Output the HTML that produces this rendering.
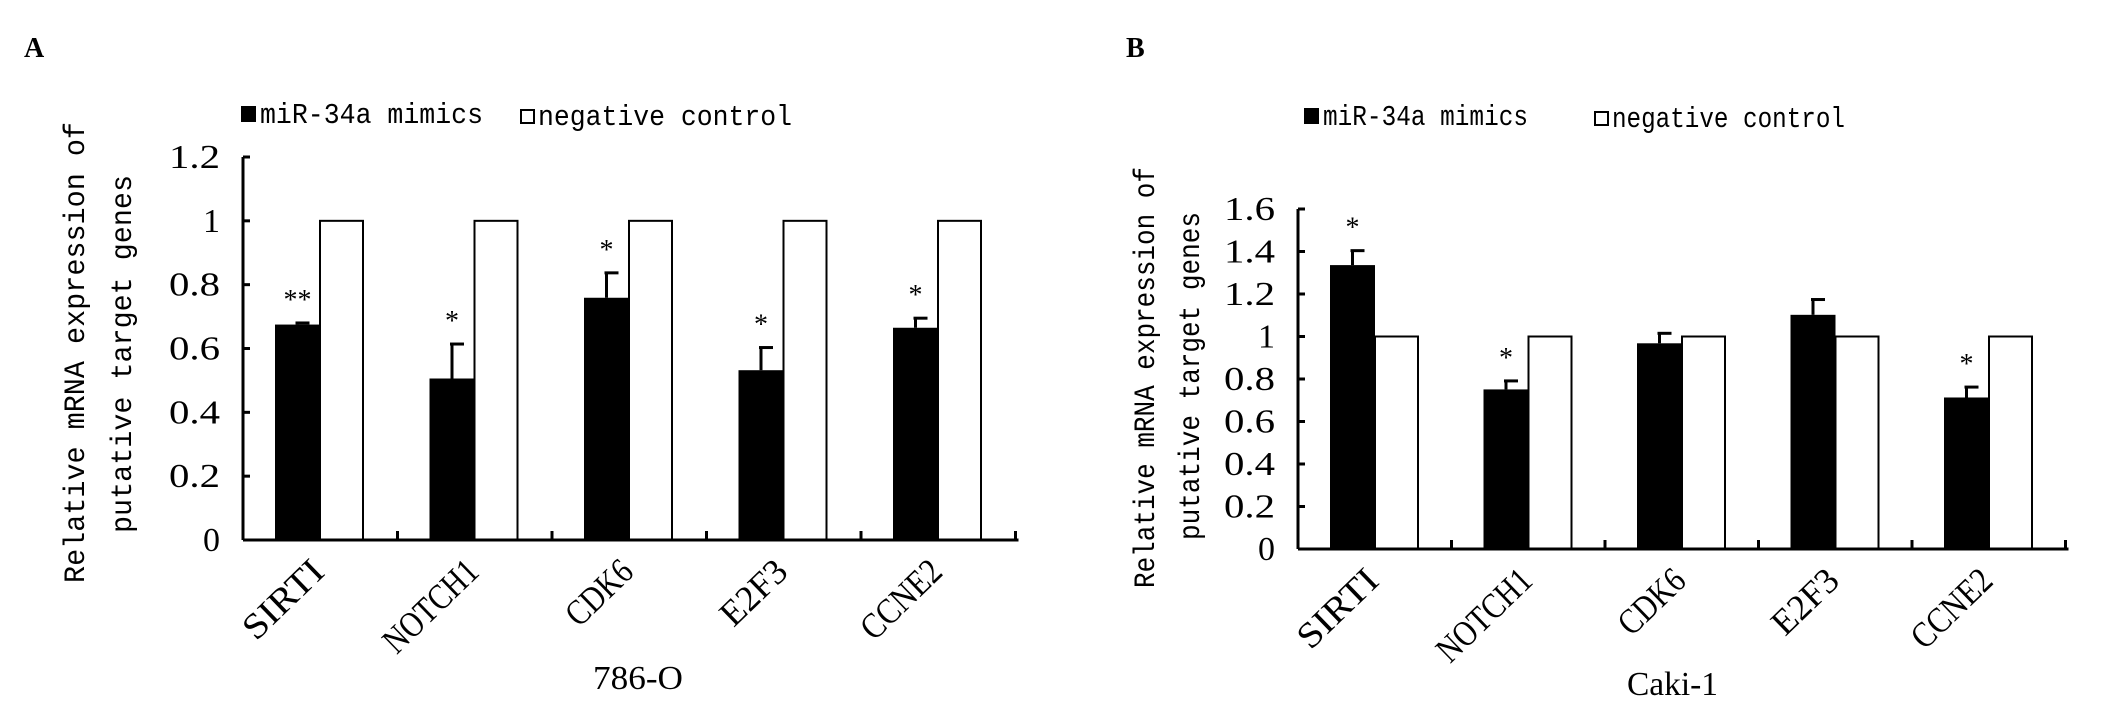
<!DOCTYPE html>
<html><head><meta charset="utf-8"><style>
html,body{margin:0;padding:0;background:#fff;}
svg{display:block;}
.m{font-family:"Liberation Mono",monospace;}
.s{font-family:"Liberation Serif",serif;}
</style></head><body>
<svg id="svg" width="2126" height="708" viewBox="0 0 2126 708" xmlns="http://www.w3.org/2000/svg"></svg>
<script>
const categories = ["SIRTI","NOTCH1","CDK6","E2F3","CCNE2"];
const mimicsA = [0.675, 0.506, 0.759, 0.532, 0.665];
const errTopA = [0.68, 0.614, 0.837, 0.603, 0.695];
const controlA = [1, 1, 1, 1, 1];
const starsA = ["**","*","*","*","*"];
const ticksA = [0, 0.2, 0.4, 0.6, 0.8, 1, 1.2];
const tickLabelsA = ["0","0.2","0.4","0.6","0.8","1","1.2"];
const mimicsB = [1.336, 0.751, 0.968, 1.102, 0.713];
const errTopB = [1.404, 0.791, 1.015, 1.174, 0.762];
const controlB = [1, 1, 1, 1, 1];
const starsB = ["*","*","","","*"];
const ticksB = [0, 0.2, 0.4, 0.6, 0.8, 1, 1.2, 1.4, 1.6];
const tickLabelsB = ["0","0.2","0.4","0.6","0.8","1","1.2","1.4","1.6"];

const NS = "http://www.w3.org/2000/svg";
const svg = document.getElementById("svg");
function mk(tag, attrs, parent, text){
  const e = document.createElementNS(NS, tag);
  for (const k in attrs) e.setAttribute(k, attrs[k]);
  if (text !== undefined) e.textContent = text;
  (parent||svg).appendChild(e);
  return e;
}

function chart(cfg){
  const g = mk("g", {});
  
  
  const x0 = cfg.x0, y0 = cfg.y0, cw = cfg.cw, ymax = cfg.ymax, ytop = cfg.ytop;
  const yS = v => y0 - (v / ymax) * (y0 - ytop);
  const L = mk("text", {x: cfg.letterX, y: 57, "font-size": 28, "font-weight": "bold", class: "s"}, g, cfg.letter);
  
  
  const lg = mk("g", {}, g);
  
  
  const b1 = mk("rect", {x: cfg.leg[0], y: cfg.legY, width: 15, height: 16, fill: "#000"}, lg);
  
  
  const t1 = mk("text", {x: cfg.leg[0]+19, y: cfg.legY+17, "font-size": 29, class: "m", textLength: cfg.leg[1], lengthAdjust: "spacingAndGlyphs"}, lg, "miR-34a mimics");
  
  
  const b2 = mk("rect", {x: cfg.leg[2], y: cfg.legY+4, width: 13, height: 13, fill: "#fff", stroke: "#000", "stroke-width": 2}, lg);
  
  
  const t2 = mk("text", {x: cfg.leg[2]+17, y: cfg.legY+19, "font-size": 29, class: "m", textLength: cfg.leg[3], lengthAdjust: "spacingAndGlyphs"}, lg, "negative control");
  
  
  const yt = mk("g", {}, g);
  
  
  const l1 = cfg.yt1, l2 = cfg.yt2;
  mk("text", {x: 0, y: 0, transform: `translate(${l1[0]},${l1[1]}) rotate(-90)`, "font-size": 30, class: "m", textLength: l1[2], lengthAdjust: "spacingAndGlyphs"}, yt, "Relative mRNA expression of");
  mk("text", {x: 0, y: 0, transform: `translate(${l2[0]},${l2[1]}) rotate(-90)`, "font-size": 30, class: "m", textLength: l2[2], lengthAdjust: "spacingAndGlyphs"}, yt, "putative target genes");
  const ya = mk("line", {x1: x0, y1: y0, x2: x0, y2: yS(ymax), stroke: "#000", "stroke-width": 3}, g);
  
  
  cfg.ticks.forEach((t, i) => {
    const y = yS(t);
    mk("line", {x1: x0, y1: y, x2: x0+7, y2: y, stroke: "#000", "stroke-width": 3}, g);
    const lbl = cfg.tickLabels[i];
    const tl = mk("text", {x: x0-23, y: y+11, "font-size": 34, class: "s", "text-anchor": "end", textLength: lbl.length*17, lengthAdjust: "spacingAndGlyphs"}, g, lbl);
    
    
  });
  cfg.mimics.forEach((v, i) => {
    const cx = x0 + i*cw;
    const bx = cx + 32;
    const top = yS(v);
    const r = mk("rect", {x: bx, y: top, width: 45, height: y0-top, fill: "#000"}, g);
    
    
    const et = yS(cfg.err[i]);
    const mid = bx + 22.5;
    mk("line", {x1: mid, y1: top, x2: mid, y2: et, stroke: "#000", "stroke-width": 3}, g);
    mk("line", {x1: mid-2, y1: et, x2: mid+12, y2: et, stroke: "#000", "stroke-width": 3}, g);
    const cv = cfg.control[i];
    const ct = yS(cv);
    const w = mk("rect", {x: bx+45, y: ct, width: 43, height: y0-ct, fill: "#fff", stroke: "#000", "stroke-width": 2}, g);
    
    
    if (cfg.stars[i]) {
      const st = mk("text", {x: mid, y: et - 14, "font-size": 28, class: "s", "text-anchor": "middle"}, g, cfg.stars[i]);
      
      
    }
    const lx = cx + cw/2 + 6, ly = y0 + 34;
    const cl = mk("text", {x: 0, y: 0, transform: `translate(${lx},${ly}) rotate(-44)`, "font-size": 36, class: "s", "text-anchor": "end", textLength: categories[i].length*19.5, lengthAdjust: "spacingAndGlyphs"}, g, categories[i]);
    
    
  });
  const xa = mk("line", {x1: x0, y1: y0, x2: x0 + 5*cw + 3, y2: y0, stroke: "#000", "stroke-width": 3}, g);
  
  
  for (let i = 1; i <= 5; i++) {
    mk("line", {x1: x0+i*cw, y1: y0, x2: x0+i*cw, y2: y0-9, stroke: "#000", "stroke-width": 3}, g);
  }
  const xt = mk("text", {x: cfg.xt[0], y: cfg.xt[1], "font-size": 34, class: "s", textLength: cfg.xt[2], lengthAdjust: "spacingAndGlyphs"}, g, cfg.xt[3]);
  
  
}

chart({name: "chart-786-o", letter: "A", letterX: 24, x0: 243, y0: 540, cw: 154.5, ymax: 1.2, ytop: 157,
  mimics: mimicsA, err: errTopA, control: controlA, stars: starsA, ticks: ticksA, tickLabels: tickLabelsA,
  leg: [241, 223, 521, 254], legY: 106, yt1: [84, 583, 461], yt2: [131, 533, 358], xt: [593, 689, 90, "786-O"]});
chart({name: "chart-caki-1", letter: "B", letterX: 1126, x0: 1298, y0: 549, cw: 153.5, ymax: 1.6, ytop: 209,
  mimics: mimicsB, err: errTopB, control: controlB, stars: starsB, ticks: ticksB, tickLabels: tickLabelsB,
  leg: [1304, 205, 1595, 233], legY: 108, yt1: [1154, 588, 421], yt2: [1199, 540, 328], xt: [1627, 695, 91, "Caki-1"]});
</script>
</body></html>
